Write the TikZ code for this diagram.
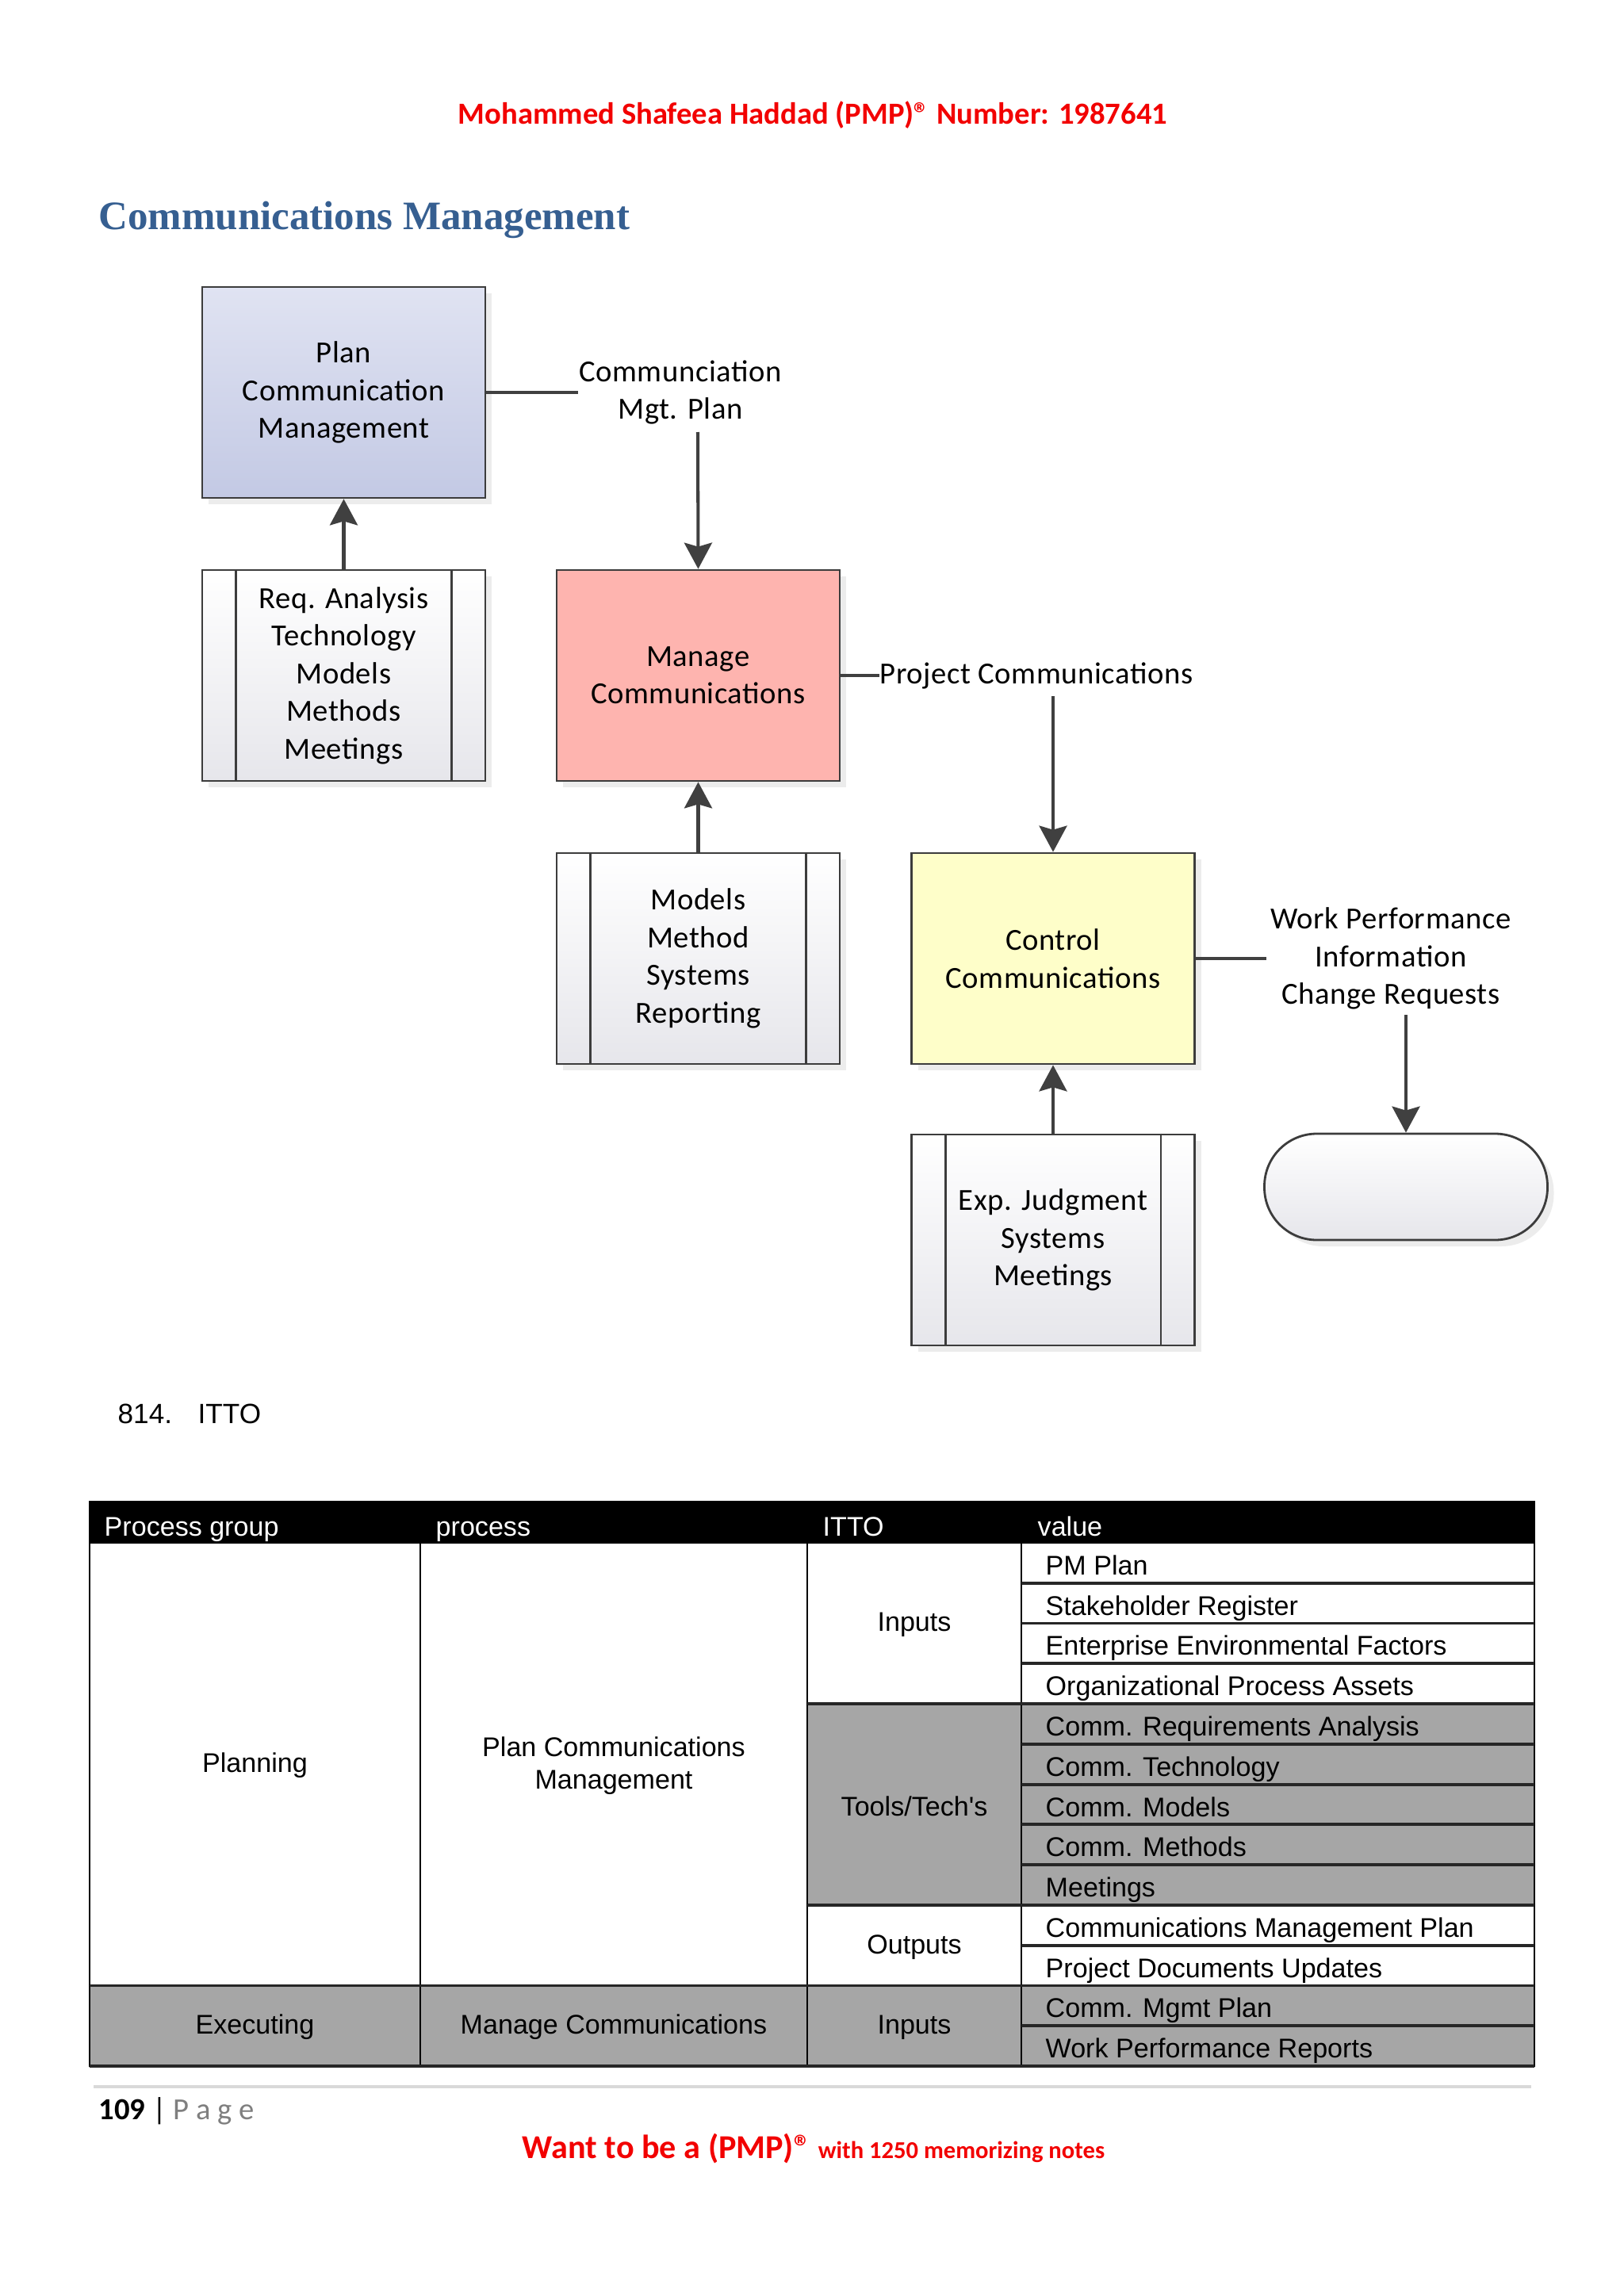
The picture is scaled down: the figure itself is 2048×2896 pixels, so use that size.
\documentclass[tikz,border=0pt]{standalone}
\usepackage{fontspec}
\setmainfont{Carlito}
\newfontfamily\diagf[LetterSpace=1.5]{Carlito}
\newfontfamily\arialf{Liberation Sans}
\newfontfamily\serff{Liberation Serif}
\usetikzlibrary{arrows.meta,shadows}
\definecolor{hdrred}{HTML}{F20000}
\definecolor{titleblue}{HTML}{365F91}
\definecolor{edge}{HTML}{3C3C3C}
\definecolor{arrowc}{HTML}{404040}
\definecolor{planA}{HTML}{E0E3F2}
\definecolor{planB}{HTML}{C3C9E4}
\definecolor{manageC}{HTML}{FEB4AF}
\definecolor{controlC}{HTML}{FEFEC9}
\definecolor{preB}{HTML}{E6E6EB}
\definecolor{cellgrey}{HTML}{A6A6A6}
\definecolor{footline}{HTML}{D9D9D9}
\definecolor{pagegrey}{HTML}{7F7F7F}
\begin{document}
\begin{tikzpicture}[x=0.1mm,y=-0.1mm,
  box/.style={draw=edge, line width=0.8pt, minimum width=35.7mm, minimum height=26.6mm,
    align=center, font=\diagf\fontsize{11}{13.5}\selectfont, inner sep=0pt,
    drop shadow={shadow xshift=0.8mm, shadow yshift=-0.8mm, fill=black!14}},
  planbox/.style={box, top color=planA, bottom color=planB},
  prebox/.style={box, top color=white, bottom color=preB},
  arr/.style={draw=arrowc, line width=1.15pt, -{Stealth[length=3.3mm,width=3.5mm,inset=0.5mm]}},
  lnk/.style={draw=arrowc, line width=1.15pt},
  lbl/.style={font=\diagf\fontsize{11}{13.5}\selectfont, align=center, inner sep=0pt},
  sideline/.style={draw=edge, line width=0.8pt},
  tline/.style={draw=black, line width=0.8pt},
  vline/.style={draw=black!85, line width=1.1pt},
  tcell/.style={font=\arialf\fontsize{9.7}{11.5}\selectfont, inner sep=0pt, align=center},
  hcell/.style={font=\arialf\fontsize{9.7}{11.5}\selectfont, inner sep=0pt, anchor=base west, text=white},
  vcell/.style={font=\arialf\fontsize{9.7}{11.5}\selectfont, inner sep=0pt, anchor=base west}
]
\useasboundingbox (0,0) rectangle (2048,2896);
\fill[white] (0,0) rectangle (2048,2896);

% page header
\node[font=\fontsize{11}{13}\bfseries\selectfont, text=hdrred, anchor=base, inner sep=0pt] (hdr) at (1025,157)
  {Mohammed Shafeea Haddad (PMP)® Number: 1987641};
\node[font=\serff\bfseries\fontsize{14.5}{17}\selectfont, text=titleblue, anchor=base west, inner sep=0pt] (title) at (124,290)
  {Communications Management};

% diagram boxes
\node[planbox] (plan) at (433.5,495) {Plan\\Communication\\Management};
\node[prebox] (req) at (433.5,852) {Req. Analysis\\Technology\\Models\\Methods\\Meetings};
\node[box, fill=manageC] (manage) at (880.5,852) {Manage\\Communications};
\node[prebox] (models) at (880.5,1209) {Models\\Method\\Systems\\Reporting};
\node[box, fill=controlC] (control) at (1328,1209) {Control\\Communications};
\node[prebox] (exp) at (1328,1564) {Exp. Judgment\\Systems\\Meetings};
\node[draw=edge, line width=0.8pt, rounded corners=6.6mm, minimum width=35.7mm, minimum height=13.4mm,
  inner sep=0pt, top color=white, bottom color=preB,
  drop shadow={shadow xshift=0.8mm, shadow yshift=-0.8mm, fill=black!14}] (term) at (1773,1497) {};

\foreach \n in {req,models,exp}{
  \draw[sideline] ([xshift=4.4mm]\n.north west) -- ([xshift=4.4mm]\n.south west);
  \draw[sideline] ([xshift=-4.4mm]\n.north east) -- ([xshift=-4.4mm]\n.south east);
}

% labels and connectors
\node[lbl] (cmp) at (858,495) {Communciation\\Mgt. Plan};
\coordinate (cmpin) at (729,495);
\draw[lnk] (plan.east) -- (cmpin);
\coordinate (cmpdrop) at (880,545);
\draw[arr] (cmpdrop) -- (manage.north);

\node[lbl, anchor=west] (pc) at (1109,852) {Project Communications};
\draw[lnk] (manage.east) -- (pc.west);
\coordinate (pcdrop) at (1328,878);
\draw[arr] (pcdrop) -- (control.north);

\node[lbl] (wp) at (1754,1209) {Work Performance\\Information\\Change Requests};
\coordinate (wpin) at (1597,1209);
\draw[lnk] (control.east) -- (wpin);
\coordinate (wpdrop) at (1773,1280);
\draw[arr] (wpdrop) -- (term.north);

\draw[arr] (req.north) -- (plan.south);
\draw[arr] (models.north) -- (manage.south);
\draw[arr] (exp.north) -- (control.south);

% list item
\node[font=\arialf\fontsize{10}{12}\selectfont, anchor=base west, inner sep=0pt] (num) at (148,1795) {814.};
\node[font=\arialf\fontsize{10}{12}\selectfont, anchor=base west, inner sep=0pt] (itto) at (249,1795) {ITTO};

% table fills
\fill[black] (113,1894) rectangle (1935,1946);
\fill[cellgrey] (1018,2149.1) rectangle (1935,2402.9);
\fill[cellgrey] (113,2504.5) rectangle (1935,2606);
% table lines
\draw[tline] (113,1894) rectangle (1935,2606);
\foreach \x in {530,1018,1288} \draw[tline] (\x,1946) -- (\x,2606);
\draw[tline] (113,1946) -- (1935,1946);
\foreach \k in {2,...,13} \draw[vline] (1288,{1946+(\k-1)*50.77}) -- (1935,{1946+(\k-1)*50.77});
\draw[vline] (1018,2149.1) -- (1935,2149.1);
\draw[vline] (1018,2402.9) -- (1935,2402.9);
\draw[vline] (113,2504.5) -- (1935,2504.5);
\draw[vline] (113,2606) -- (1935,2606);

% header texts
\node[hcell] (h1) at (131,1937) {Process group};
\node[hcell] (h2) at (549,1937) {process};
\node[hcell] (h3) at (1037,1937) {ITTO};
\node[hcell] (h4) at (1308,1937) {value};

% value texts
\foreach \k/\t in {1/PM Plan, 2/Stakeholder Register, 3/Enterprise Environmental Factors,
  4/Organizational Process Assets, 5/Comm. Requirements Analysis, 6/Comm. Technology,
  7/Comm. Models, 8/Comm. Methods, 9/Meetings, 10/Communications Management Plan,
  11/Project Documents Updates, 12/Comm. Mgmt Plan, 13/Work Performance Reports}
  \node[vcell] (v\k) at (1318,{1946+(\k-0.5)*50.77+15}) {\t};

% ITTO and group texts
\node[tcell] (i1) at (1153,2049) {Inputs};
\node[tcell] (i2) at (1153,2278) {Tools/Tech's};
\node[tcell] (i3) at (1153,2456) {Outputs};
\node[tcell] (i4) at (1153,2557) {Inputs};
\node[tcell] (g1) at (321.5,2227) {Planning};
\node[tcell] (p1) at (774,2227) {Plan Communications\\Management};
\node[tcell] (g2) at (321.5,2557) {Executing};
\node[tcell] (p2) at (774,2557) {Manage Communications};

% footer
\draw[footline, line width=1pt] (118,2632) -- (1931,2632);
\node[anchor=base west, inner sep=0pt, font=\fontsize{11}{13}\selectfont] (pg) at (124,2673)
  {\textbf{109} | \textcolor{pagegrey}{P a g e}};
\node[anchor=base, inner sep=0pt, text=hdrred, font=\bfseries] (want) at (1026,2722)
  {\fontsize{12}{14}\selectfont Want to be a (PMP)® \fontsize{8.7}{10}\selectfont with 1250 memorizing notes};
\end{tikzpicture}
\end{document}
